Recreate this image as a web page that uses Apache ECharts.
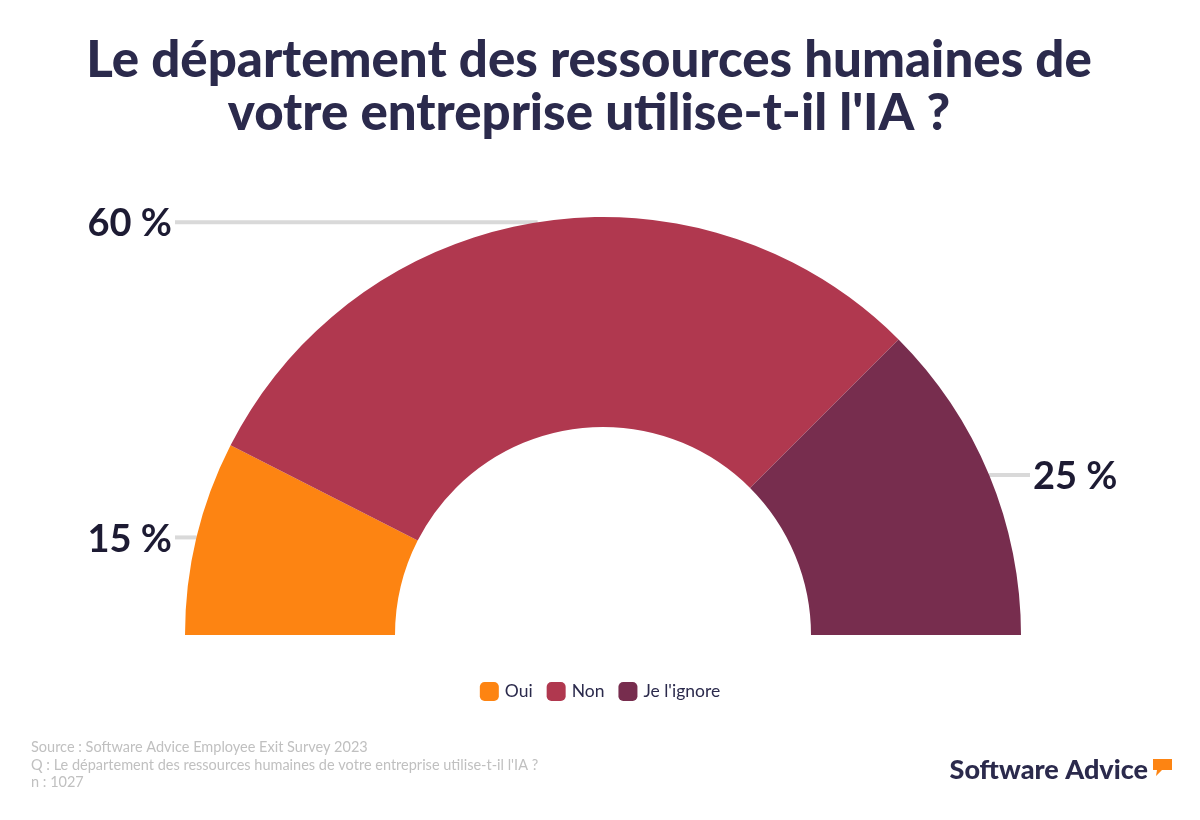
<!DOCTYPE html>
<html>
<head>
<meta charset="utf-8">
<script src="https://cdn.jsdelivr.net/npm/echarts@6/dist/echarts.min.js"></script>
<style>
html,body{margin:0;padding:0;background:#fff;}
#chart{width:1200px;height:820px;}
</style>
</head>
<body>
<div id="chart"></div>
<script>
const categories = ["Oui", "Non", "Je l'ignore"];
const values = [15, 60, 25];
const colors = ["#fd8412", "#b0384f", "#772d4e"];
const titleText = "Le département des ressources humaines de\nvotre entreprise utilise-t-il l'IA ?";
const footerLines = [
  "Source : Software Advice Employee Exit Survey 2023",
  "Q : Le département des ressources humaines de votre entreprise utilise-t-il l'IA ?",
  "n : 1027"
];

const LEFT_LINE_END = 175;
const RIGHT_LINE_END = 1030;

const chart = echarts.init(document.getElementById('chart'));
const option = {
  backgroundColor: '#ffffff',
  title: {
    text: titleText,
    left: 584,
    top: 29,
    textAlign: 'center',
    textStyle: {
      fontFamily: 'Lato',
      fontWeight: 900,
      fontSize: 51,
      lineHeight: 53,
      color: '#2b2a4c'
    }
  },
  legend: {
    data: categories,
    left: 'center',
    top: 677,
    itemWidth: 19,
    itemHeight: 19,
    itemGap: 14,
    icon: 'roundRect',
    textStyle: { fontFamily: 'Lato', fontSize: 17.5, color: '#2b2a4c', padding: [0, 0, 0, 1] },
    selectedMode: false
  },
  series: [{
    type: 'pie',
    center: [603, 635],
    radius: [208, 418],
    startAngle: 180,
    endAngle: 360,
    avoidLabelOverlap: false,
    silent: true,
    data: categories.map((c, i) => ({ name: c, value: values[i], itemStyle: { color: colors[i] } })),
    label: {
      show: true,
      position: 'outer',
      formatter: '{c} %',
      fontFamily: 'Lato',
      fontWeight: 'bold',
      fontSize: 38,
      color: '#1d1b33'
    },
    labelLine: {
      show: true,
      length: 0,
      length2: 10,
      smooth: false,
      lineStyle: { color: '#d9d9d9', width: 4 }
    },
    labelLayout: function (params) {
      const pts = params.labelLinePoints;
      if (!pts) return {};
      const p0 = pts[0];
      const isLeft = p0[0] < 603;
      const endX = isLeft ? LEFT_LINE_END : RIGHT_LINE_END;
      return {
        x: isLeft ? endX - 3 : endX + 3,
        y: p0[1] + 2,
        align: isLeft ? 'right' : 'left',
        verticalAlign: 'middle',
        labelLinePoints: [[p0[0], p0[1]], [p0[0], p0[1]], [endX, p0[1]]]
      };
    }
  }],
  graphic: [
    {
      type: 'text',
      left: 31,
      top: 739,
      style: {
        text: footerLines.join('\n'),
        fontFamily: 'Lato',
        fontSize: 14.5,
        lineHeight: 17.5,
        fill: '#c0c0c0'
      }
    },
    {
      type: 'text',
      right: 52,
      top: 757,
      style: {
        text: 'Software Advice',
        fontFamily: 'Lato',
        fontWeight: 900,
        fontSize: 27,
        fill: '#2b2a4c'
      }
    },
    {
      type: 'polygon',
      shape: { points: [[1153,759],[1172,759],[1172,770],[1162,770],[1156,776],[1157,770],[1153,770]] },
      style: { fill: '#fd8412' }
    }
  ]
};
chart.setOption(option);
</script>
</body>
</html>
